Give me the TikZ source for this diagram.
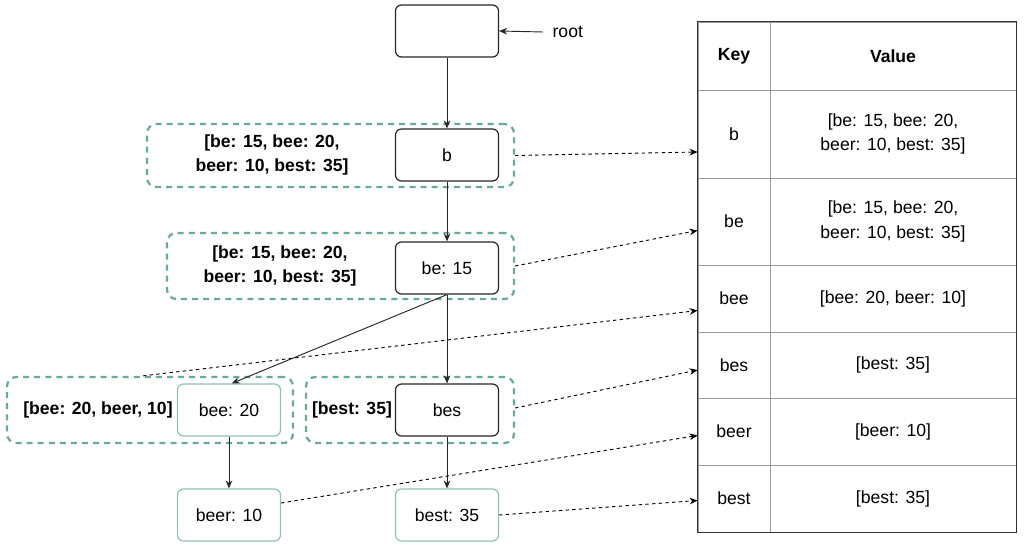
\documentclass[tikz,border=0pt]{standalone}
\usepackage{fontspec}
\setmainfont{Liberation Sans}
\usepackage{tikz}
\usetikzlibrary{arrows.meta, positioning, calc, backgrounds}
\definecolor{groupteal}{HTML}{67AB9F}
\definecolor{leafteal}{HTML}{8DC2B8}
\definecolor{gridgray}{HTML}{9A9A9A}

\begin{document}
\begin{tikzpicture}[
    x=0.75pt, y=-0.75pt,
    font=\fontsize{13.2}{18.5}\selectfont,
    trie/.style={rectangle, rounded corners=4.5pt, draw=#1, line width=0.9pt, fill=white, minimum width=77.25pt, minimum height=39pt, align=center},
    trie/.default=black!85,
    cache/.style={rectangle, rounded corners=7pt, draw=groupteal, line width=1.7pt, dash pattern=on 4.5pt off 3.8pt, minimum width=#1},
    cachetext/.style={align=center, font=\fontsize{13.2}{18.5}\selectfont\bfseries},
    cell/.style={rectangle, draw=gridgray, line width=0.6pt, inner sep=0pt, align=center},
    link/.style={-{Stealth[length=6pt, width=5pt]}, line width=0.7pt, black!85},
    lookup/.style={-{Stealth[length=6pt, width=5pt]}, line width=0.7pt, dash pattern=on 2.5pt off 2.5pt},
]
    \useasboundingbox (0,0) rectangle (1024,545);

    % cached top-k groups
    \node[cache=275.25pt, minimum height=47.25pt] (g-b) at (330.5,155.5) {};
    \node[cache=260.25pt, minimum height=49.5pt] (g-be) at (340.5,266) {};
    \node[cache=214.5pt, minimum height=49.5pt] (g-bee) at (150,410) {};
    \node[cache=156pt, minimum height=49.5pt] (g-bes) at (410,410) {};

    \node[cachetext] (c-b) at (272,155) {[be: 15, bee: 20,\\beer: 10, best: 35]};
    \node[cachetext] (c-be) at (280,266) {[be: 15, bee: 20,\\beer: 10, best: 35]};
    \node[cachetext] (c-bee) at (98,410) {[bee: 20, beer, 10]};
    \node[cachetext] (c-bes) at (352,410) {[best: 35]};

    % trie nodes
    \node[trie] (n-root) at (447,31) {};
    \node[trie] (n-b) at (447,155) {b};
    \node[trie] (n-be) at (447,268) {be: 15};
    \node[trie=leafteal] (n-bee) at (229,410) {bee: 20};
    \node[trie] (n-bes) at (447,410) {bes};
    \node[trie=leafteal] (n-beer) at (229,515) {beer: 10};
    \node[trie=leafteal] (n-best) at (447,515) {best: 35};

    \node[inner sep=1pt, anchor=west] (rootlbl) at (551,32) {root};
    \draw[link] ([xshift=-6pt]rootlbl.west) -- (n-root.east);

    \draw[link] (n-root) -- (n-b);
    \draw[link] (n-b) -- (n-be);
    \draw[link] (n-be.south) -- ([xshift=2pt]n-bee.north);
    \draw[link] (n-be) -- (n-bes);
    \draw[link] (n-bee) -- (n-beer);
    \draw[link] (n-bes) -- (n-best);

    % hash table
    \node[cell, minimum width=54pt, minimum height=51pt, font=\fontsize{13.2}{18.5}\selectfont\bfseries] (k-head) at (734,56) {Key};
    \node[cell, minimum width=184.5pt, minimum height=51pt, font=\fontsize{13.2}{18.5}\selectfont\bfseries] (v-head) at (893,56) {Value};
    \foreach \k/\v/\t/\h in {b/{[be: 15, bee: 20,\\beer: 10, best: 35]}/90/88, be/{[be: 15, bee: 20,\\beer: 10, best: 35]}/178/87, bee/{[bee: 20, beer: 10]}/265/67, bes/{[best: 35]}/332/66, beer/{[beer: 10]}/398/67, best/{[best: 35]}/465/67} {
        \node[cell, minimum width=54pt, minimum height=\h*0.75pt] (k-\k) at (734,\t+\h/2) {\k};
        \node[cell, minimum width=184.5pt, minimum height=\h*0.75pt] (v-\k) at (893,\t+\h/2) {\v};
    }
    \draw[black!80, line width=1pt] (k-head.north west) rectangle (v-best.south east);

    % lookups into the table
    \draw[lookup] (g-b.east) -- ([yshift=-13.5pt]k-b.west);
    \draw[lookup] (g-be.east) -- ([yshift=-6.75pt]k-be.west);
    \draw[lookup] ([xshift=-5.25pt]g-bee.north) -- ([yshift=-9pt]k-bee.west);
    \draw[lookup] ([yshift=1.5pt]g-bes.east) -- ([yshift=-3.75pt]k-bes.west);
    \draw[lookup] ([yshift=9pt]n-beer.east) -- ([yshift=-3pt]k-beer.west);
    \draw[lookup] (n-best.east) -- ([yshift=-1.5pt]k-best.west);
\end{tikzpicture}
\end{document}
